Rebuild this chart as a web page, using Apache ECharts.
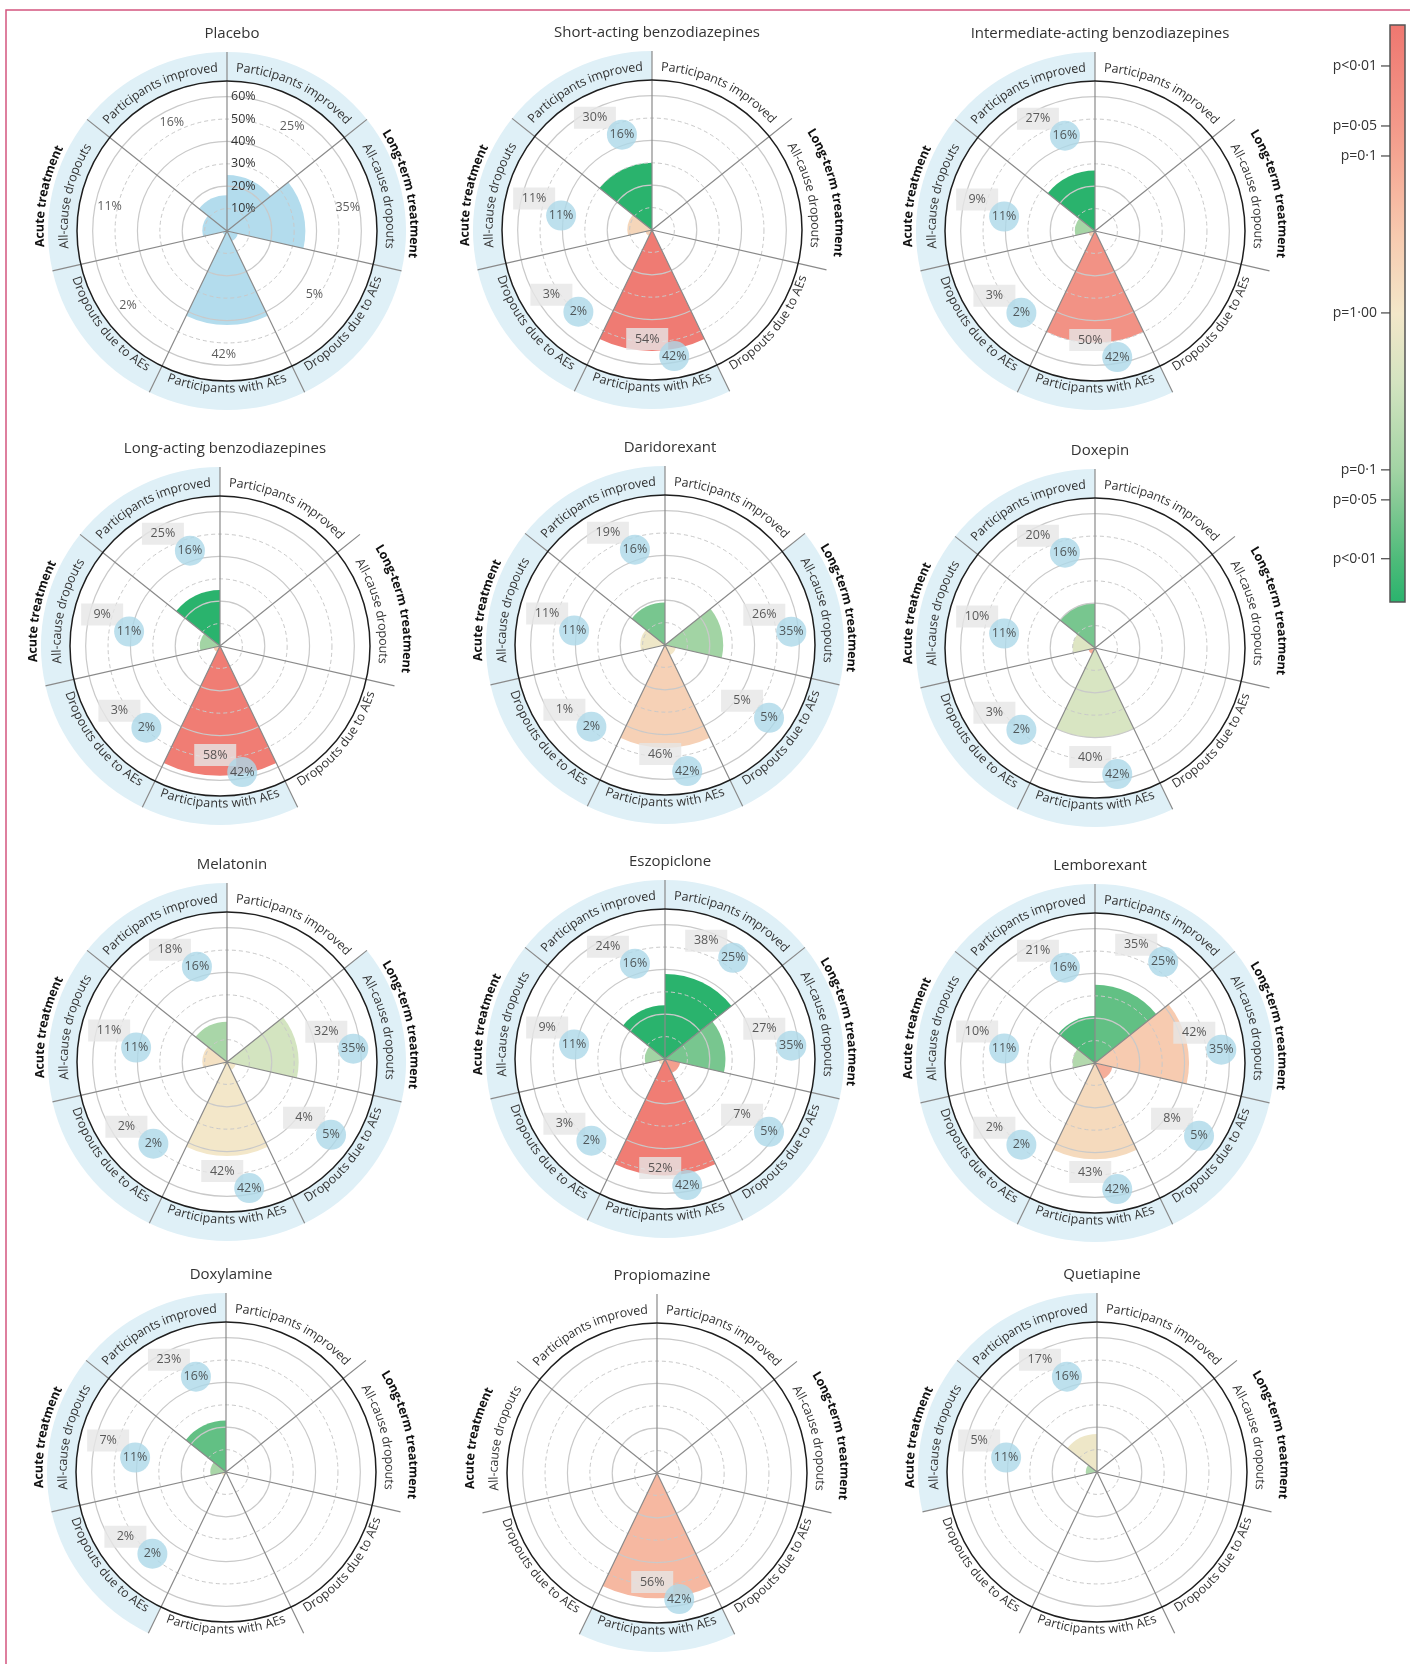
<!DOCTYPE html>
<html>
<head>
<meta charset="utf-8">
<script src="https://cdn.jsdelivr.net/npm/echarts@6.0.0/dist/echarts.min.js"></script>
<style>
  html, body { margin: 0; padding: 0; background: #fff; }
  #chart { width: 1410px; height: 1664px; }
</style>
</head>
<body>
<div id="chart"></div>
<script>
// outcome order = clockwise from 12 o'clock
const outcomes = ['Participants improved (long-term)', 'All-cause dropouts (long-term)', 'Dropouts due to AEs (long-term)',
  'Participants with AEs', 'Dropouts due to AEs (acute)', 'All-cause dropouts (acute)', 'Participants improved (acute)'];
const outcomeLabels = ['Participants improved', 'All-cause dropouts', 'Dropouts due to AEs',
  'Participants with AEs', 'Dropouts due to AEs', 'All-cause dropouts', 'Participants improved'];

const drugs = ['Placebo', 'Short-acting benzodiazepines', 'Intermediate-acting benzodiazepines',
  'Long-acting benzodiazepines', 'Daridorexant', 'Doxepin',
  'Melatonin', 'Eszopiclone', 'Lemborexant',
  'Doxylamine', 'Propiomazine', 'Quetiapine'];

// percentages per outcome
const placeboPct      = [25, 35, 5, 42, 2, 11, 16];
const shortPct        = [null, null, null, 54, 3, 11, 30];
const intermediatePct = [null, null, null, 50, 3, 9, 27];
const longPct         = [null, null, null, 58, 3, 9, 25];
const daridorexantPct = [null, 26, 5, 46, 1, 11, 19];
const doxepinPct      = [null, null, null, 40, 3, 10, 20];
const melatoninPct    = [null, 32, 4, 42, 2, 11, 18];
const eszopiclonePct  = [38, 27, 7, 52, 3, 9, 24];
const lemborexantPct  = [35, 42, 8, 43, 2, 10, 21];
const doxylaminePct   = [null, null, null, null, 2, 7, 23];
const propiomazinePct = [null, null, null, 56, null, null, null];
const quetiapinePct   = [null, null, null, null, null, 5, 17];

// position on the p-value colour bar
// 0 = top (p<0·01, worse than placebo), 0.5 = p=1·00, 1 = bottom (p<0·01, better)
const shortP        = [null, null, null, 0.02, 0.4, 0.42, 1];
const intermediateP = [null, null, null, 0.14, 0.4, 0.76, 1];
const longP         = [null, null, null, 0.03, 0.35, 0.77, 1];
const daridorexantP = [null, 0.77, 0.5, 0.4, 0.5, 0.52, 0.85];
const doxepinP      = [null, null, null, 0.6, 0.25, 0.58, 0.85];
const melatoninP    = [null, 0.62, 0.5, 0.5, 0.5, 0.47, 0.75];
const eszopicloneP  = [1, 0.85, 0.2, 0.03, 0.45, 0.77, 1];
const lemborexantP  = [0.89, 0.37, 0.26, 0.44, 0.5, 0.72, 0.93];
const doxylamineP   = [null, null, null, null, 0.5, 0.75, 0.89];
const propiomazineP = [null, null, null, 0.3, null, null, null];
const quetiapineP   = [null, null, null, null, null, 0.73, 0.52];

const pTickLabels = ['p<0·01', 'p=0·05', 'p=0·1', 'p=1·00', 'p=0·1', 'p=0·05', 'p<0·01'];
const pTickPos    = [0.071, 0.175, 0.227, 0.499, 0.771, 0.823, 0.925];

const allPct = [placeboPct, shortPct, intermediatePct, longPct, daridorexantPct, doxepinPct,
  melatoninPct, eszopiclonePct, lemborexantPct, doxylaminePct, propiomazinePct, quetiapinePct];
const allP = [null, shortP, intermediateP, longP, daridorexantP, doxepinP,
  melatoninP, eszopicloneP, lemborexantP, doxylamineP, propiomazineP, quetiapineP];

// ---- layout ----
const R_OUT = 150, R_BAND = 179, R_MAX = 67;
const centers = [[227, 231], [652, 230], [1095, 231],
  [220, 646], [665, 645], [1095, 648],
  [227, 1062], [665, 1059], [1095, 1063],
  [226, 1472], [657, 1473], [1097, 1472]];
const bubbleR = [122, 127, 127, 128, 110, 92, 100];
const bubbleA = [34, 84, 125, 170, 222, 279, 342.5];
const placeboTextR = [123, 123, 108, 123, 124, 120, 121.5];
const placeboTextA = [32, 79, 126, 181.5, 233, 282, 333];
const labelUpright = [true, true, false, false, false, true, true];
const longSpokes = [0, 3, 4];

const shadeStops = [[0, '#ef7770'], [0.175, '#f3998a'], [0.227, '#f5a592'], [0.37, '#f7cbb0'],
  [0.5, '#f3e7c9'], [0.62, '#d3e4c0'], [0.771, '#a2d4a4'], [0.823, '#87ca96'],
  [0.925, '#4ebb7a'], [1, '#2ab36d']];

const FONT = '"Open Sans", "DejaVu Sans", sans-serif';
const toUnits = px => px * R_MAX / R_OUT;

function hexRgb(h) {
  return [parseInt(h.slice(1, 3), 16), parseInt(h.slice(3, 5), 16), parseInt(h.slice(5, 7), 16)];
}
function shade(t) {
  for (let k = 1; k < shadeStops.length; k++) {
    if (t <= shadeStops[k][0]) {
      const [t0, c0] = shadeStops[k - 1], [t1, c1] = shadeStops[k];
      const f = (t - t0) / (t1 - t0);
      const a = hexRgb(c0), b = hexRgb(c1);
      return 'rgb(' + a.map((v, j) => Math.round(v + (b[j] - v) * f)).join(',') + ')';
    }
  }
  return shadeStops[shadeStops.length - 1][1];
}

const measureCtx = document.createElement('canvas').getContext('2d');
// text bent along a circle, one element per glyph
function arcText(cx, cy, r, midDeg, text, font, color, upright) {
  measureCtx.font = font;
  const chars = Array.from(text);
  const ws = chars.map(ch => measureCtx.measureText(ch).width);
  const span = ws.reduce((a, b) => a + b, 0) / r;
  const mid = midDeg * Math.PI / 180;
  let acc = 0;
  return chars.map((ch, i) => {
    const off = (acc + ws[i] / 2) / r;
    acc += ws[i];
    const a = upright ? mid - span / 2 + off : mid + span / 2 - off;
    return {
      type: 'text', silent: true, z: 20,
      x: cx + r * Math.sin(a), y: cy - r * Math.cos(a),
      rotation: upright ? -a : Math.PI - a,
      style: { text: ch, font: font, fill: color, align: 'center', verticalAlign: 'middle',
        textAlign: 'center', textVerticalAlign: 'middle' }
    };
  });
}

// band sector for one outcome, angle taken from the category axis
function renderBand(params, api) {
  const cs = params.coordSys;
  const pt = api.coord([1, api.value(1)]);
  const mid = Math.atan2(pt[1] - cs.cy, pt[0] - cs.cx);
  const half = Math.PI / outcomes.length;
  return {
    type: 'sector',
    shape: { cx: cs.cx, cy: cs.cy, r0: cs.r0, r: cs.r, startAngle: mid - half, endAngle: mid + half, clockwise: true },
    style: { fill: '#dff0f7' }
  };
}

const polar = [], angleAxis = [], radiusAxis = [], series = [], titles = [], elements = [];
const ringSolid = ['rgba(0,0,0,0)', '#c9c9c9', '#c9c9c9', '#c9c9c9', 'rgba(0,0,0,0)'];
const ringDashed = ['rgba(0,0,0,0)', '#c9c9c9', 'rgba(0,0,0,0)', '#c9c9c9', 'rgba(0,0,0,0)', '#c9c9c9',
  'rgba(0,0,0,0)', 'rgba(0,0,0,0)'];

drugs.forEach((name, i) => {
  const [cx, cy] = centers[i];
  const pct = allPct[i], pv = allP[i];
  const p0 = 3 * i, p1 = 3 * i + 1, p2 = 3 * i + 2;

  polar.push({ center: [cx, cy], radius: R_OUT },
    { center: [cx, cy], radius: R_OUT },
    { center: [cx, cy], radius: [R_OUT, R_BAND] });

  angleAxis.push({
    polarIndex: p0, type: 'category', data: outcomes, startAngle: 90, clockwise: true, z: 5,
    axisLine: { show: true, lineStyle: { color: '#1e1e1e', width: 1.5 } },
    axisTick: { show: false }, axisLabel: { show: false },
    splitLine: { show: true, lineStyle: { color: '#8a8a8a', width: 1.2 } }
  }, {
    polarIndex: p1, type: 'value', min: 0, max: 360, startAngle: 90, clockwise: true,
    axisLine: { show: false }, axisTick: { show: false }, axisLabel: { show: false }, splitLine: { show: false }
  }, {
    polarIndex: p2, type: 'category', data: outcomes, startAngle: 90, clockwise: true, z: 5,
    axisLine: { show: false }, axisTick: { show: false }, axisLabel: { show: false },
    splitLine: { show: true, interval: idx => longSpokes.indexOf(idx) >= 0,
      lineStyle: { color: '#8a8a8a', width: 1.2 } }
  });

  radiusAxis.push({
    polarIndex: p0, type: 'value', min: 0, max: R_MAX, interval: 20, z: 4,
    axisLine: { show: false }, axisTick: { show: false }, axisLabel: { show: false },
    splitLine: { show: true, lineStyle: { color: ringSolid, width: 1.2 } }
  }, {
    polarIndex: p1, type: 'value', min: 0, max: R_MAX, interval: 10, z: 4,
    axisLine: { show: false }, axisTick: { show: false },
    axisLabel: { show: i === 0, color: '#333', fontSize: 12.5, fontFamily: FONT,
      align: 'left', margin: -4,
      formatter: v => (v > 0 && v <= 60 && v % 10 === 0) ? v + '%' : '' },
    splitLine: { show: true, lineStyle: { color: ringDashed, width: 1, type: [4, 3] } }
  }, {
    polarIndex: p2, type: 'value', min: 0, max: 1,
    axisLine: { show: false }, axisTick: { show: false }, axisLabel: { show: false }, splitLine: { show: false }
  });

  // band marks which outcomes have data
  const bandData = [];
  pct.forEach((v, k) => { if (v != null) bandData.push([1, k]); });
  series.push({
    type: 'custom', coordinateSystem: 'polar', polarIndex: p2, silent: true, z: 1,
    renderItem: renderBand, data: bandData
  });

  series.push({
    type: 'bar', coordinateSystem: 'polar', polarIndex: p0, silent: true, z: 1,
    barCategoryGap: '0%',
    data: pct.map((v, k) => v == null ? 0 : {
      value: v, itemStyle: { color: i === 0 ? '#b3dced' : shade(pv[k]) }
    })
  });

  if (i === 0) {
    series.push({
      type: 'scatter', coordinateSystem: 'polar', polarIndex: p1, silent: true, z: 10,
      symbol: 'circle', symbolSize: 1, itemStyle: { color: 'rgba(0,0,0,0)' },
      label: { show: true, position: 'inside', color: '#333', fontSize: 12.5, fontFamily: FONT,
        formatter: p => p.value[2] + '%' },
      data: pct.map((v, k) => [toUnits(placeboTextR[k]), placeboTextA[k], v])
    });
  } else {
    const pts = [];
    pct.forEach((v, k) => {
      if (v != null) pts.push([toUnits(bubbleR[k]), bubbleA[k], v, placeboPct[k]]);
    });
    series.push({
      type: 'scatter', coordinateSystem: 'polar', polarIndex: p1, silent: true, z: 10,
      symbol: 'rect', symbolSize: [42, 22], symbolOffset: [-27, -17],
      itemStyle: { color: '#e6e6e6' },
      label: { show: true, position: 'inside', color: '#333', fontSize: 12.5, fontFamily: FONT,
        formatter: p => p.value[2] + '%' },
      data: pts
    }, {
      type: 'scatter', coordinateSystem: 'polar', polarIndex: p1, silent: true, z: 11,
      symbol: 'circle', symbolSize: 30, itemStyle: { color: '#acd8e8' },
      label: { show: true, position: 'inside', color: '#333', fontSize: 12.5, fontFamily: FONT,
        formatter: p => p.value[3] + '%' },
      data: pts
    });
  }

  titles.push({
    text: name, left: cx, top: cy - 210, textAlign: 'center',
    textStyle: { fontFamily: FONT, fontSize: 15, fontWeight: 'normal', color: '#333' }
  });

  outcomeLabels.forEach((lab, k) => {
    const mid = (k + 0.5) * 360 / outcomes.length;
    elements.push(...arcText(cx, cy, labelUpright[k] ? 163 : 158, mid, lab,
      '12.5px ' + FONT, '#333', labelUpright[k]));
  });
  elements.push(...arcText(cx, cy, 187, 281, 'Acute treatment', 'bold 12.5px ' + FONT, '#111', true));
  elements.push(...arcText(cx, cy, 187, 78, 'Long-term treatment', 'bold 12.5px ' + FONT, '#111', true));
});

// p-value colour bar
const barX = 1390, barY = 25, barW = 15, barH = 577;
elements.push({
  type: 'rect', silent: true,
  shape: { x: barX, y: barY, width: barW, height: barH },
  style: {
    fill: { type: 'linear', x: 0, y: 0, x2: 0, y2: 1,
      colorStops: shadeStops.map(s => ({ offset: s[0], color: s[1] })) },
    stroke: '#555', lineWidth: 1.5
  }
});
pTickLabels.forEach((t, k) => {
  const y = barY + pTickPos[k] * barH;
  elements.push({ type: 'line', silent: true, shape: { x1: barX - 9, y1: y, x2: barX, y2: y },
    style: { stroke: '#444', lineWidth: 1.2 } });
  elements.push({ type: 'text', silent: true, x: barX - 13, y: y,
    style: { text: t, font: '14px ' + FONT, fill: '#333', align: 'right', verticalAlign: 'middle',
      textAlign: 'right', textVerticalAlign: 'middle' } });
});

// frame
elements.push({ type: 'polyline', silent: true, shape: { points: [[6, 1664], [6, 10], [1410, 10]] },
  style: { stroke: '#d4557f', lineWidth: 1.5, fill: null } });

const chart = echarts.init(document.getElementById('chart'), null, { renderer: 'canvas' });
chart.setOption({
  animation: false,
  backgroundColor: '#fff',
  title: titles,
  polar: polar,
  angleAxis: angleAxis,
  radiusAxis: radiusAxis,
  series: series,
  graphic: { elements: elements }
});
</script>
</body>
</html>
